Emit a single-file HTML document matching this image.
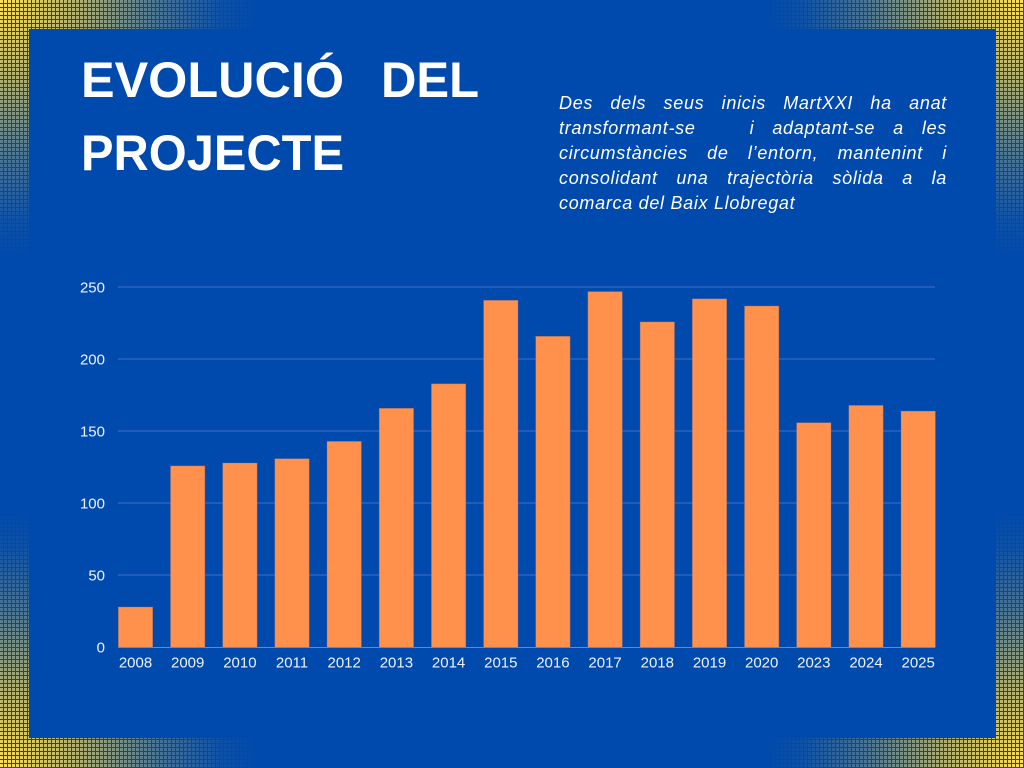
<!DOCTYPE html>
<html>
<head>
<meta charset="utf-8">
<style>
  html, body { margin:0; padding:0; }
  body { width:1024px; height:768px; overflow:hidden; background:#004AAD; position:relative; }
  svg { position:absolute; left:0; top:0; }
  .para { position:absolute; left:559px; top:91px; width:388px; color:#ffffff;
    font-family:"Liberation Sans", sans-serif; font-style:italic; font-size:18px;
    letter-spacing:0.7px; line-height:25px; }
  .para div { white-space:nowrap; text-align:justify; text-align-last:justify; }
  .para div.last { text-align:left; text-align-last:left; }
</style>
</head>
<body>
<svg width="1024" height="768" viewBox="0 0 1024 768" xmlns="http://www.w3.org/2000/svg">
  <defs>
    <pattern id="dots" width="4" height="4" patternUnits="userSpaceOnUse">
      <rect x="0" y="0" width="3" height="3" fill="#FFDE59"/>
    </pattern>
    <radialGradient id="g1" gradientUnits="userSpaceOnUse" cx="0" cy="0" r="260">
      <stop offset="0" stop-color="#fff" stop-opacity="1"/>
      <stop offset="0.3" stop-color="#fff" stop-opacity="0.7"/>
      <stop offset="0.6" stop-color="#fff" stop-opacity="0.3"/>
      <stop offset="0.85" stop-color="#fff" stop-opacity="0.06"/>
      <stop offset="1" stop-color="#fff" stop-opacity="0"/>
    </radialGradient>
    <radialGradient id="g2" gradientUnits="userSpaceOnUse" cx="1024" cy="0" r="260">
      <stop offset="0" stop-color="#fff" stop-opacity="1"/>
      <stop offset="0.3" stop-color="#fff" stop-opacity="0.7"/>
      <stop offset="0.6" stop-color="#fff" stop-opacity="0.3"/>
      <stop offset="0.85" stop-color="#fff" stop-opacity="0.06"/>
      <stop offset="1" stop-color="#fff" stop-opacity="0"/>
    </radialGradient>
    <radialGradient id="g3" gradientUnits="userSpaceOnUse" cx="0" cy="768" r="260">
      <stop offset="0" stop-color="#fff" stop-opacity="1"/>
      <stop offset="0.3" stop-color="#fff" stop-opacity="0.7"/>
      <stop offset="0.6" stop-color="#fff" stop-opacity="0.3"/>
      <stop offset="0.85" stop-color="#fff" stop-opacity="0.06"/>
      <stop offset="1" stop-color="#fff" stop-opacity="0"/>
    </radialGradient>
    <radialGradient id="g4" gradientUnits="userSpaceOnUse" cx="1024" cy="768" r="260">
      <stop offset="0" stop-color="#fff" stop-opacity="1"/>
      <stop offset="0.3" stop-color="#fff" stop-opacity="0.7"/>
      <stop offset="0.6" stop-color="#fff" stop-opacity="0.3"/>
      <stop offset="0.85" stop-color="#fff" stop-opacity="0.06"/>
      <stop offset="1" stop-color="#fff" stop-opacity="0"/>
    </radialGradient>
    <mask id="m" maskUnits="userSpaceOnUse" x="0" y="0" width="1024" height="768">
      <rect x="0" y="0" width="1024" height="768" fill="#000"/>
      <rect x="0" y="0" width="300" height="300" fill="url(#g1)"/>
      <rect x="724" y="0" width="300" height="300" fill="url(#g2)"/>
      <rect x="0" y="468" width="300" height="300" fill="url(#g3)"/>
      <rect x="724" y="468" width="300" height="300" fill="url(#g4)"/>
    </mask>
  </defs>

  <!-- background -->
  <rect x="0" y="0" width="1024" height="768" fill="#004AAD"/>
  <rect x="0" y="0" width="1024" height="768" fill="url(#dots)" mask="url(#m)"/>
  <!-- inner panel -->
  <rect x="29" y="29" width="966" height="709" fill="#004AAD"/>

  <!-- title -->
  <g font-family="Liberation Sans, sans-serif" font-weight="bold" font-size="50" fill="#ffffff">
    <text x="81" y="97" textLength="263" lengthAdjust="spacingAndGlyphs">EVOLUCIÓ</text>
    <text x="381" y="97" textLength="98" lengthAdjust="spacingAndGlyphs">DEL</text>
    <text x="81" y="170" textLength="263" lengthAdjust="spacingAndGlyphs">PROJECTE</text>
  </g>

  <!-- gridlines -->
  <g stroke="#2C62BE" stroke-width="1.5">
    <line x1="118" y1="287" x2="935" y2="287"/>
    <line x1="118" y1="359" x2="935" y2="359"/>
    <line x1="118" y1="431" x2="935" y2="431"/>
    <line x1="118" y1="503" x2="935" y2="503"/>
    <line x1="118" y1="575" x2="935" y2="575"/>
  </g>

  <!-- y labels -->
  <g font-family="Liberation Sans, sans-serif" font-size="15" fill="#EEF2FB" text-anchor="end">
    <text x="105" y="292.5">250</text>
    <text x="105" y="364.5">200</text>
    <text x="105" y="436.5">150</text>
    <text x="105" y="508.5">100</text>
    <text x="105" y="580.5">50</text>
    <text x="105" y="652.5">0</text>
  </g>

  <!-- bars -->
  <g fill="#FF914D" stroke="#8E6A78" stroke-width="0.6" stroke-opacity="0.6">
    <rect x="118.3" y="607.0" width="34.4" height="40.3"/>
    <rect x="170.5" y="465.9" width="34.4" height="181.4"/>
    <rect x="222.7" y="463.0" width="34.4" height="184.3"/>
    <rect x="274.8" y="458.7" width="34.4" height="188.6"/>
    <rect x="327.0" y="441.4" width="34.4" height="205.9"/>
    <rect x="379.2" y="408.3" width="34.4" height="239.0"/>
    <rect x="431.4" y="383.8" width="34.4" height="263.5"/>
    <rect x="483.6" y="300.3" width="34.4" height="347.0"/>
    <rect x="535.7" y="336.3" width="34.4" height="311.0"/>
    <rect x="587.9" y="291.6" width="34.4" height="355.7"/>
    <rect x="640.1" y="321.9" width="34.4" height="325.4"/>
    <rect x="692.3" y="298.8" width="34.4" height="348.5"/>
    <rect x="744.5" y="306.0" width="34.4" height="341.3"/>
    <rect x="796.6" y="422.7" width="34.4" height="224.6"/>
    <rect x="848.8" y="405.4" width="34.4" height="241.9"/>
    <rect x="901.0" y="411.1" width="34.4" height="236.2"/>
  </g>

  <!-- baseline -->
  <line x1="118" y1="647.5" x2="935" y2="647.5" stroke="#5A8AD6" stroke-width="1"/>

  <!-- x labels -->
  <g font-family="Liberation Sans, sans-serif" font-size="15" fill="#EEF2FB" text-anchor="middle">
    <text x="135.5" y="667.5">2008</text>
    <text x="187.7" y="667.5">2009</text>
    <text x="239.9" y="667.5">2010</text>
    <text x="292.0" y="667.5">2011</text>
    <text x="344.2" y="667.5">2012</text>
    <text x="396.4" y="667.5">2013</text>
    <text x="448.6" y="667.5">2014</text>
    <text x="500.8" y="667.5">2015</text>
    <text x="552.9" y="667.5">2016</text>
    <text x="605.1" y="667.5">2017</text>
    <text x="657.3" y="667.5">2018</text>
    <text x="709.5" y="667.5">2019</text>
    <text x="761.7" y="667.5">2020</text>
    <text x="813.8" y="667.5">2023</text>
    <text x="866.0" y="667.5">2024</text>
    <text x="918.2" y="667.5">2025</text>
  </g>
</svg>

<div class="para">
  <div>Des dels seus inicis MartXXI ha anat</div>
  <div>transformant-se&nbsp;&nbsp; i adaptant-se a les</div>
  <div>circumstàncies de l’entorn, mantenint i</div>
  <div>consolidant una trajectòria sòlida a la</div>
  <div class="last">comarca del Baix Llobregat</div>
</div>
</body>
</html>
